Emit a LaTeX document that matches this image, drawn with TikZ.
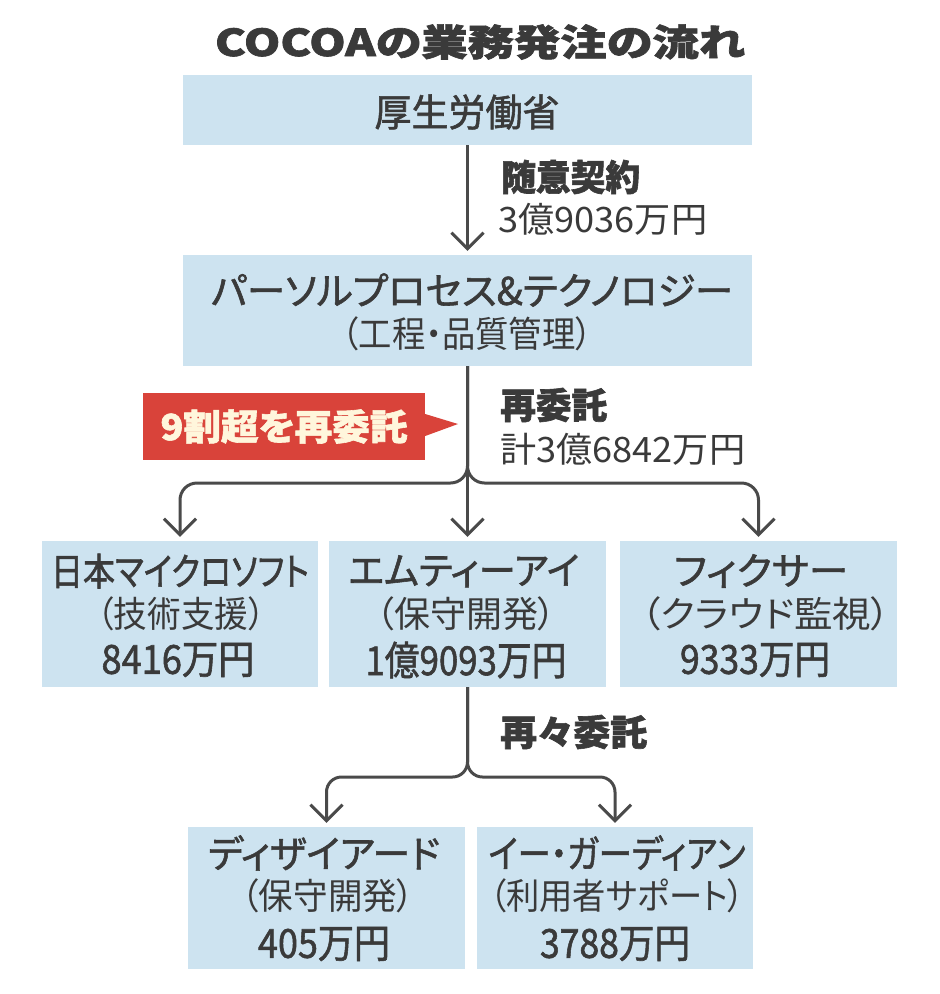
\documentclass[tikz,border=0pt]{standalone}
\usepackage{fontspec}
\usepackage{graphicx}
\usetikzlibrary{arrows.meta}
\newfontfamily\jpR[RawFeature=+palt,BoldFeatures={FakeBold=1.6}]{Noto Sans CJK JP}
\newfontfamily\jpM[RawFeature=+palt,FakeBold=1.5]{Noto Sans CJK JP}
\definecolor{boxblue}{HTML}{CDE3F0}
\definecolor{inkgray}{HTML}{3A3A3A}
\definecolor{linegray}{HTML}{4A4A4A}
\definecolor{redc}{HTML}{D9433A}
\definecolor{labtext}{HTML}{FFF6DC}
\newcommand{\fitw}[2]{\resizebox{#1pt}{\height}{#2}}
\tikzset{
  box/.style={fill=boxblue, draw=none, inner sep=0pt},
  txt/.style={inner sep=0pt, text=inkgray},
  nm/.style={txt, font=\jpM\fontsize{38}{38}\selectfont},
  pr/.style={txt, font=\jpR\fontsize{36}{36}\selectfont},
  am/.style={txt, font=\jpM\fontsize{40}{40}\selectfont},
  lab/.style={txt, anchor=west, font=\jpR\bfseries\fontsize{36}{36}\selectfont},
  labam/.style={txt, anchor=west, font=\jpR\fontsize{35}{35}\selectfont},
  conn/.style={draw=linegray, line width=3pt, -{Straight Barb[length=16pt,width=32pt]}, shorten >=4pt},
}
\begin{document}
\begin{tikzpicture}[x=1pt,y=-1pt]
\useasboundingbox[fill=white] (0,0) rectangle (940,994);

% title
\node[txt, font=\jpR\bfseries\fontsize{37}{37}\selectfont] (title) at (480,42) {\fitw{530}{COCOAの業務発注の流れ}};

% boxes
\node[box, minimum width=569pt, minimum height=70pt] (b1) at (467.5,110) {};
\node[box, minimum width=569pt, minimum height=111pt] (b2) at (467.5,310.5) {};
\node[box, minimum width=276pt, minimum height=146pt] (bA) at (180,614) {};
\node[box, minimum width=277pt, minimum height=146pt] (bB) at (467.5,614) {};
\node[box, minimum width=277pt, minimum height=146pt] (bC) at (758.5,614) {};
\node[box, minimum width=277pt, minimum height=142pt] (bD) at (326.5,898) {};
\node[box, minimum width=276pt, minimum height=142pt] (bE) at (615,898) {};

% box texts
\node[nm] (t1) at (467,112) {\fitw{185}{厚生労働省}};
\node[nm] (t2a) at (472,290) {\fitw{522}{パーソルプロセス\&テクノロジー}};
\node[pr] (t2b) at (467,334) {\fitw{250}{（工程・品質管理）}};

\node[nm] (tA1) at (180,571) {\fitw{258}{日本マイクロソフト}};
\node[pr] (tA2) at (181,614) {\fitw{168}{（技術支援）}};
\node[am] (tA3) at (178,660) {\fitw{153}{8416万円}};

\node[nm] (tB1) at (464,571) {\fitw{231}{エムティーアイ}};
\node[pr] (tB2) at (466,614) {\fitw{180}{（保守開発）}};
\node[am] (tB3) at (466,660) {\fitw{201}{1億9093万円}};

\node[nm] (tC1) at (761,571) {\fitw{174}{フィクサー}};
\node[pr] (tC2) at (766,614) {\fitw{249}{（クラウド監視）}};
\node[am] (tC3) at (755,660) {\fitw{150}{9333万円}};

\node[nm] (tD1) at (324,853) {\fitw{232}{ディザイアード}};
\node[pr] (tD2) at (328,896) {\fitw{173}{（保守開発）}};
\node[am] (tD3) at (324,944) {\fitw{132}{405万円}};

\node[nm] (tE1) at (617,853) {\fitw{257}{イー・ガーディアン}};
\node[pr] (tE2) at (617,896) {\fitw{255}{（利用者サポート）}};
\node[am] (tE3) at (615,944) {\fitw{150}{3788万円}};

% side labels
\node[lab] (l1) at (501,177) {\fitw{139}{随意契約}};
\node[labam] (l1b) at (498,219) {\fitw{209}{3億9036万円}};
\node[lab] (l2) at (500,405) {\fitw{107}{再委託}};
\node[labam] (l2b) at (500,449) {\fitw{245}{計3億6842万円}};
\node[lab] (l3) at (500,732) {\fitw{147}{再々委託}};

% red label
\node[fill=redc, inner sep=0pt, minimum width=282pt, minimum height=67pt,
      text=labtext, font=\jpR\bfseries\fontsize{36}{36}\selectfont] (red) at (284,426.5) {\fitw{247}{9割超を再委託}};
\fill[redc] (red.north east |- 0,414) -- (458,424) -- (red.north east |- 0,436) -- cycle;

% connectors
\coordinate (hA) at (180,483);
\coordinate (hC) at (758.5,483);
\coordinate (hD) at (326.5,777);
\coordinate (hE) at (615,777);

\draw[conn] (b1.south) -- (b2.north);
\draw[conn, rounded corners=17pt] (b2.south) |- (hA) -- (bA.north);
\draw[conn, rounded corners=17pt] (b2.south) |- (hC) -- (bC.north);
\draw[conn] (b2.south) -- (bB.north);
\draw[conn, rounded corners=15pt] (bB.south) |- (hD) -- (bD.north);
\draw[conn, rounded corners=15pt] (bB.south) |- (hE) -- (bE.north);
\end{tikzpicture}
\end{document}
